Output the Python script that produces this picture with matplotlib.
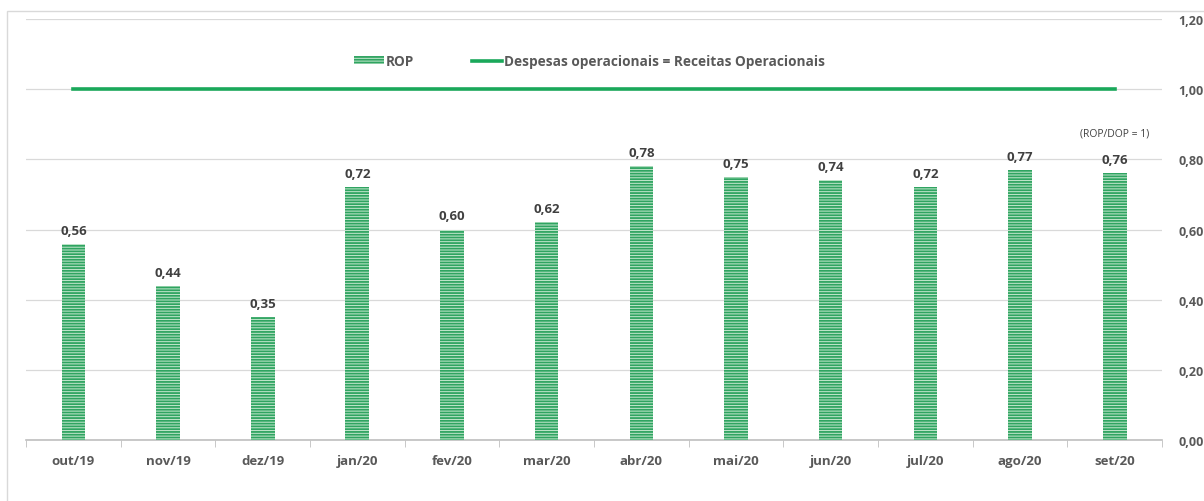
import numpy as np
import matplotlib
matplotlib.use("Agg")
import matplotlib.pyplot as plt
from matplotlib.patches import Patch, Rectangle
from matplotlib.lines import Line2D

# data
months = ["out/19", "nov/19", "dez/19", "jan/20", "fev/20", "mar/20",
          "abr/20", "mai/20", "jun/20", "jul/20", "ago/20", "set/20"]
rop = [0.56, 0.44, 0.35, 0.72, 0.60, 0.62, 0.78, 0.75, 0.74, 0.72, 0.77, 0.76]
equilibrio = [1.0] * len(months)
yticks = [0.0, 0.2, 0.4, 0.6, 0.8, 1.0, 1.2]

plt.rcParams['font.family'] = ['Open Sans', 'DejaVu Sans']
plt.rcParams['hatch.linewidth'] = 1.3

txt = "#404040"
grid = "#d9d9d9"
green = "#1aa85a"
bar_face = "#c6e8cf"
bar_hatch = "#2fa461"

fig = plt.figure(figsize=(12.04, 5.02), dpi=100)
# light chart frame
fig.patches.append(Rectangle((7 / 1204, -0.1), 1.2, 1 - 12 / 502 + 0.1,
                             transform=fig.transFigure, fill=False,
                             edgecolor=grid, linewidth=1.0))
ax = fig.add_axes([26 / 1204, 1 - 441 / 502, (1162 - 26) / 1204, (441 - 20) / 502])

x = np.arange(len(months))
ax.bar(x, rop, width=0.25, facecolor=bar_face, edgecolor=bar_hatch,
       hatch="------", linewidth=0, zorder=3)
ax.plot(x, equilibrio, color=green, linewidth=2.6, zorder=4)

for xi, v in zip(x, rop):
    ax.text(xi, v + 0.02, f"{v:.2f}".replace(".", ","), ha="center", va="bottom",
            fontsize=9.5, fontweight="bold", color=txt)

ax.text(x[-1], 0.875, "(ROP/DOP = 1)", ha="center", va="center", fontsize=7.5, color=txt)

ax.set_xlim(-0.5, len(months) - 0.5)
ax.set_ylim(0, 1.2)
ax.set_xticks(x)
ax.set_xticklabels(months, fontsize=9.5, fontweight="bold", color="#595959")
ax.set_xticks(np.arange(-0.5, len(months)), minor=True)
ax.tick_params(axis="x", which="major", length=0, pad=10)
ax.tick_params(axis="x", which="minor", length=5, color="#bfbfbf", direction="out")

ax.yaxis.tick_right()
ax.set_yticks(yticks)
ax.set_yticklabels([f"{t:.2f}".replace(".", ",") for t in yticks],
                   fontsize=9, fontweight="bold", color="#595959")
ax.tick_params(axis="y", length=0, pad=12)
ax.grid(axis="y", color=grid, linewidth=0.9, zorder=0)

for s in ["top", "right", "left"]:
    ax.spines[s].set_visible(False)
ax.spines["bottom"].set_color("#bfbfbf")
ax.spines["bottom"].set_linewidth(1.2)

handles = [Patch(facecolor=bar_face, edgecolor=bar_hatch, hatch="------", linewidth=0),
           Line2D([0], [0], color=green, linewidth=2.6)]
ax.legend(handles, ["ROP", "Despesas operacionais = Receitas Operacionais"],
          loc="center", bbox_to_anchor=(0.496, 0.9), ncol=2, frameon=False,
          prop={"size": 9.8, "weight": "bold"}, labelcolor="#595959",
          handlelength=2.2, handleheight=0.5, handletextpad=0.2, columnspacing=4.2)

fig.savefig("out.png", dpi=100)
